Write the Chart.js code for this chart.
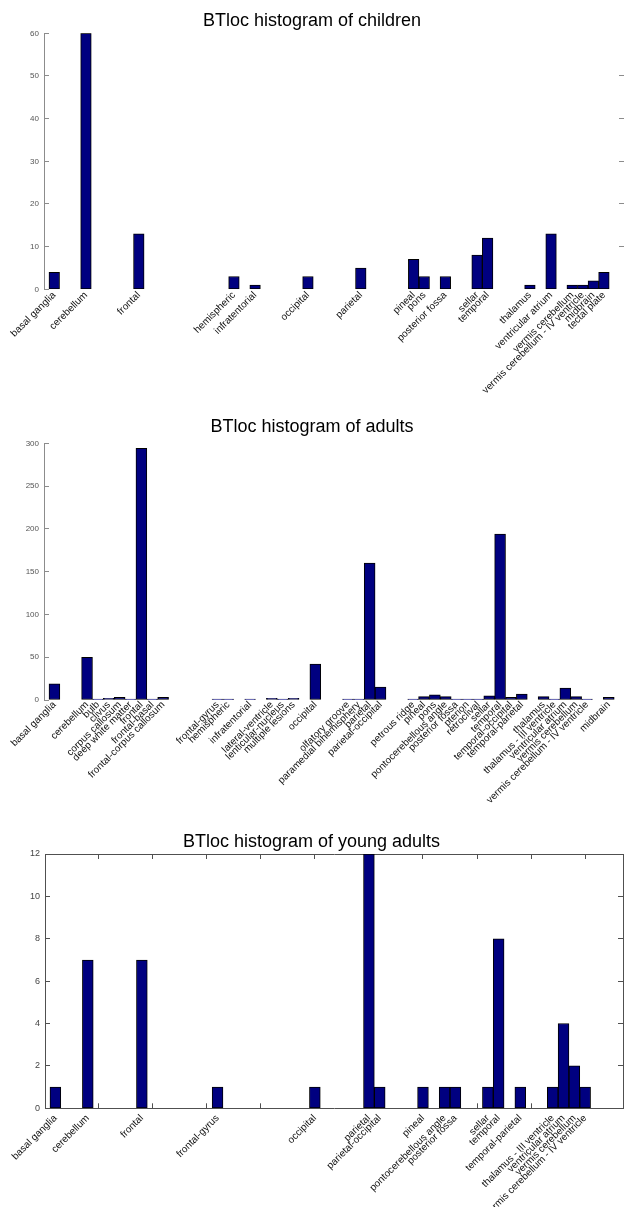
<!DOCTYPE html>
<html>
<head>
<meta charset="utf-8">
<title>BTloc histograms</title>
<script src="https://cdn.jsdelivr.net/npm/chart.js@4.4.0/dist/chart.umd.min.js"></script>
<style>
  html, body { margin: 0; padding: 0; background: #fff; }
  body { width: 624px; height: 1207px; position: relative; overflow: hidden; }
  canvas { position: absolute; left: 0; }
</style>
</head>
<body>
<canvas id="chart-children" width="624" height="410" style="top:0"></canvas>
<canvas id="chart-adults" width="624" height="410" style="top:400px"></canvas>
<canvas id="chart-young" width="624" height="407" style="top:800px"></canvas>
<script>
// ── Data: children ──────────────────────────────────────────
const CHILD_LABELS = ['basal ganglia', 'cerebellum', 'frontal', 'hemispheric', 'infratentorial',
  'occipital', 'parietal', 'pineal', 'pons', 'posterior fossa', 'sellar', 'temporal', 'thalamus',
  'ventricular atrium', 'vermis cerebellum', 'vermis cerebellum - IV ventricle', 'midbrain', 'tectal plate'];
const CHILD_BINS   = [0, 3, 8, 17, 19, 24, 29, 34, 35, 37, 40, 41, 45, 47, 49, 50, 51, 52];
const CHILD_COUNTS = [4, 60, 13, 3, 1, 3, 5, 7, 3, 3, 8, 12, 1, 13, 1, 1, 2, 4];
const CHILD_Y_TICKS = [0, 10, 20, 30, 40, 50, 60];

// ── Data: adults ────────────────────────────────────────────
const ADULT_LABELS = ['basal ganglia', 'cerebellum', 'bulb', 'clivus', 'corpus callosum',
  'deep white matter', 'frontal', 'frontal-basal', 'frontal-corpus callosum', 'frontal-gyrus',
  'hemispheric', 'infratentorial', 'lateral-ventricle', 'lenticular-nucleus', 'multiple lesions',
  'occipital', 'olfatory groove', 'paramedial bihemisphery', 'parietal', 'parietal-occipital',
  'petrous ridge', 'pineal', 'pons', 'pontocerebellous angle', 'posterior fossa', 'pterion',
  'retroclival', 'sellar', 'temporal', 'temporal-occipital', 'temporal-parietal', 'thalamus',
  'thalamus - III ventricle', 'ventricular atrium', 'vermis cerebellum',
  'vermis cerebellum - IV ventricle', 'midbrain'];
const ADULT_BINS   = [0, 3, 4, 5, 6, 7, 8, 9, 10, 15, 16, 18, 20, 21, 22, 24, 27, 28, 29, 30,
  33, 34, 35, 36, 37, 38, 39, 40, 41, 42, 43, 45, 46, 47, 48, 49, 51];
const ADULT_COUNTS = [19, 50, 1, 2, 3, 1, 294, 1, 3, 1, 1, 1, 2, 1, 2, 42, 1, 1, 160, 15,
  1, 4, 6, 4, 1, 1, 1, 5, 194, 3, 7, 4, 1, 14, 4, 1, 3];
const ADULT_Y_TICKS = [0, 50, 100, 150, 200, 250, 300];

// ── Data: young adults ──────────────────────────────────────
const YOUNG_LABELS = ['basal ganglia', 'cerebellum', 'frontal', 'frontal-gyrus', 'occipital',
  'parietal', 'parietal-occipital', 'pineal', 'pontocerebellous angle', 'posterior fossa',
  'sellar', 'temporal', 'temporal-parietal', 'thalamus - III ventricle', 'ventricular atrium',
  'vermis cerebellum', 'vermis cerebellum - IV ventricle'];
const YOUNG_BINS   = [0, 3, 8, 15, 24, 29, 30, 34, 36, 37, 40, 41, 43, 46, 47, 48, 49];
const YOUNG_COUNTS = [1, 7, 7, 1, 1, 12, 1, 1, 1, 1, 1, 8, 1, 1, 4, 2, 1];
const YOUNG_Y_TICKS = [0, 2, 4, 6, 8, 10, 12];
const YOUNG_X_MARKS = [4, 9, 14, 19, 24, 29, 34, 39, 44, 49];

// ── Style ───────────────────────────────────────────────────
const FONT = "'Liberation Sans', Arial, Helvetica, sans-serif";
const BAR_FILL = '#000080';
const BAR_EDGE = '#000000';
const NONE = 'rgba(0,0,0,0)';

Chart.defaults.font.family = FONT;
Chart.defaults.animation = false;

function makeHist(id, o) {
  const canvas = document.getElementById(id);
  if (!canvas) return;

  const marks = o.xMarks || [];
  const xTicks = o.bins.map((b, i) => ({ value: b, name: o.labels[i], mark: false }))
    .concat(marks.map(v => ({ value: v, name: '', mark: true })))
    .sort((a, b) => a.value - b.value);
  const yMin = o.yTicks[0];
  const yMax = o.yTicks[o.yTicks.length - 1];
  const setY = s => { s.ticks = o.yTicks.map(v => ({ value: v })); };

  const scales = {
    x: {
      type: 'linear', min: o.xMin, max: o.xMax, offset: false, bounds: 'data',
      afterBuildTicks: s => { s.ticks = xTicks.map(t => ({ ...t })); },
      afterFit: s => { s.height = o.xHeight; s.paddingLeft = 0; s.paddingRight = 0; },
      ticks: {
        autoSkip: false, minRotation: 45, maxRotation: 45, padding: o.labelPad,
        color: '#111', font: { family: FONT, size: 10 },
        callback: (v, i, t) => t[i].name
      },
      grid: {
        display: !!o.box, offset: false, drawOnChartArea: false, drawTicks: !!o.box,
        tickLength: -5, tickWidth: 1,
        tickColor: c => (c.tick && c.tick.mark) ? o.axisColor : NONE
      },
      border: { display: !!o.box, color: o.axisColor, width: 1 }
    },
    y: {
      type: 'linear', min: yMin, max: yMax, bounds: 'data',
      afterBuildTicks: setY,
      afterFit: s => { s.width = o.yWidth; },
      ticks: { color: o.tickText, font: { family: FONT, size: o.tickSize }, padding: 10 },
      grid: { drawOnChartArea: false, offset: false, tickLength: -5, tickWidth: 1, tickColor: o.axisColor },
      border: { color: o.axisColor, width: 1 }
    }
  };

  if (o.rightTicks) {
    scales.yRight = {
      axis: 'y', type: 'linear', position: 'right', min: yMin, max: yMax, bounds: 'data',
      afterBuildTicks: setY,
      afterFit: s => { s.width = 0; },
      ticks: { display: false },
      grid: {
        drawOnChartArea: false, offset: false, tickLength: -5, tickWidth: 1,
        tickColor: c => (o.hideEndTicks && (c.index === 0 || c.index === o.yTicks.length - 1)) ? NONE : o.axisColor
      },
      border: { display: !!o.box, color: o.axisColor, width: 1 }
    };
  }

  if (o.box) {
    scales.xTop = {
      axis: 'x', type: 'linear', position: 'top', min: o.xMin, max: o.xMax, offset: false, bounds: 'data',
      afterBuildTicks: s => { s.ticks = marks.map(v => ({ value: v })); },
      afterFit: s => { s.height = 0; },
      ticks: { display: false },
      grid: { drawOnChartArea: false, offset: false, tickLength: -5, tickWidth: 1, tickColor: o.axisColor },
      border: { color: o.axisColor, width: 1 }
    };
  }

  new Chart(canvas, {
    type: 'bar',
    data: {
      datasets: [{
        data: o.bins.map((b, i) => ({ x: b, y: o.counts[i] })),
        backgroundColor: BAR_FILL,
        borderColor: BAR_EDGE,
        borderWidth: 1,
        borderSkipped: false,
        barPercentage: 1,
        categoryPercentage: 1
      }]
    },
    options: {
      responsive: false,
      animation: false,
      layout: { padding: { left: 0, right: o.padRight || 0, top: 0, bottom: 0 } },
      plugins: {
        legend: { display: false },
        tooltip: { enabled: false },
        title: {
          display: true, text: o.title, color: '#000',
          font: { family: FONT, size: 18, weight: 'normal', lineHeight: 1.2 },
          padding: { top: o.titleTop, bottom: o.titleBottom }
        }
      },
      scales
    }
  });
}

// ── 1. Children ─────────────────────────────────────────────
makeHist('chart-children', {
  title: 'BTloc histogram of children',
  labels: CHILD_LABELS, bins: CHILD_BINS, counts: CHILD_COUNTS, yTicks: CHILD_Y_TICKS,
  xMin: -0.97, xMax: 53.9, xHeight: 120.7, yWidth: 44,
  titleTop: 9.9, titleBottom: 1.8, labelPad: 0,
  axisColor: '#8c8c8c', tickText: '#555', tickSize: 8,
  rightTicks: true, hideEndTicks: true, box: false
});

// ── 2. Adults ───────────────────────────────────────────────
makeHist('chart-adults', {
  title: 'BTloc histogram of adults',
  labels: ADULT_LABELS, bins: ADULT_BINS, counts: ADULT_COUNTS, yTicks: ADULT_Y_TICKS,
  xMin: -0.96, xMax: 52.4, xHeight: 110, yWidth: 44,
  titleTop: 16.2, titleBottom: 5.5, labelPad: -1,
  axisColor: '#8c8c8c', tickText: '#555', tickSize: 8,
  rightTicks: false, box: false
});

// ── 3. Young adults ─────────────────────────────────────────
makeHist('chart-young', {
  title: 'BTloc histogram of young adults',
  labels: YOUNG_LABELS, bins: YOUNG_BINS, counts: YOUNG_COUNTS, yTicks: YOUNG_Y_TICKS,
  xMarks: YOUNG_X_MARKS,
  xMin: -0.96, xMax: 52.5, xHeight: 98.7, yWidth: 45, padRight: 1,
  titleTop: 30.9, titleBottom: 1.5, labelPad: 9,
  axisColor: '#505050', tickText: '#444', tickSize: 9,
  rightTicks: true, hideEndTicks: false, box: true
});
</script>
</body>
</html>
